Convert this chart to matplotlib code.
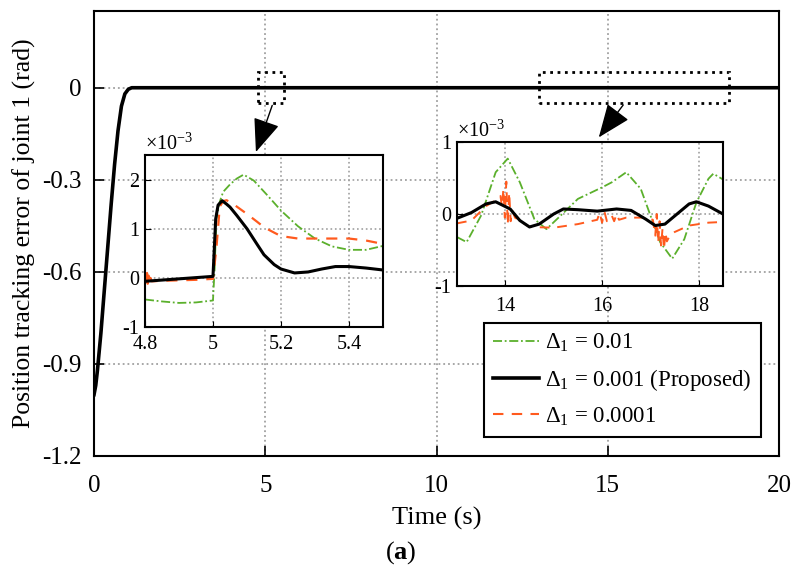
import matplotlib
matplotlib.use('Agg')
import matplotlib.pyplot as plt
from matplotlib.patches import Rectangle

plt.rcParams['font.family'] = ['Liberation Serif', 'DejaVu Serif']
plt.rcParams['mathtext.fontset'] = 'custom'
plt.rcParams['mathtext.rm'] = 'Liberation Serif'
plt.rcParams['mathtext.it'] = 'Liberation Serif:italic'
plt.rcParams['mathtext.bf'] = 'Liberation Serif:bold'
plt.rcParams['axes.unicode_minus'] = False

# colours of the three cases
c_green = '#5BB02C'
c_black = '#000000'
c_orange = '#FF5A1E'

# --- main plot data (rad) ---
t_main = [0, 0.05, 0.1, 0.2, 0.3, 0.4, 0.5, 0.6, 0.7, 0.8, 0.9, 1.0, 1.1, 1.2, 20]
e_main = [-1.0, -0.97, -0.92, -0.80, -0.66, -0.52, -0.38, -0.25, -0.14, -0.06, -0.02, -0.005, 0, 0, 0]

# --- inset 1 data (x1e-3 rad), t in 4.8..5.5 ---
t1_green = [4.8, 4.85, 4.9, 4.95, 5.0, 5.005, 5.01, 5.02, 5.03, 5.05, 5.07, 5.09, 5.12, 5.16, 5.2, 5.25, 5.3, 5.35, 5.4, 5.45, 5.5]
e1_green = [-0.44, -0.48, -0.51, -0.50, -0.46, 0.2, 1.2, 1.55, 1.75, 1.9, 2.02, 2.1, 1.98, 1.68, 1.37, 1.05, 0.8, 0.64, 0.57, 0.57, 0.65]
t1_black = [4.8, 4.9, 5.0, 5.004, 5.008, 5.015, 5.027, 5.04, 5.05, 5.07, 5.1, 5.13, 5.15, 5.18, 5.2, 5.24, 5.28, 5.32, 5.36, 5.4, 5.45, 5.5]
e1_black = [-0.07, -0.02, 0.03, 0.6, 1.2, 1.48, 1.57, 1.5, 1.44, 1.27, 1.0, 0.68, 0.47, 0.27, 0.18, 0.1, 0.12, 0.18, 0.23, 0.23, 0.2, 0.16]
t1_orange = [4.8, 4.802, 4.804, 4.806, 4.808, 4.81, 4.813, 4.816, 4.82, 4.85, 4.9, 4.95, 5.0, 5.01, 5.02, 5.03, 5.04, 5.06, 5.08, 5.1, 5.13, 5.15, 5.18, 5.2, 5.25, 5.3, 5.35, 5.4, 5.45, 5.5]
e1_orange = [-0.05, 0.08, -0.15, 0.1, -0.12, 0.05, -0.1, 0.0, -0.07, -0.06, -0.05, -0.04, -0.02, 0.6, 1.45, 1.56, 1.58, 1.5, 1.4, 1.3, 1.14, 1.03, 0.92, 0.85, 0.8, 0.8, 0.8, 0.8, 0.76, 0.69]

# --- inset 2 data (x1e-3 rad), t in 13..18.5 ---
t2_green = [13.0, 13.2, 13.5, 13.8, 14.05, 14.3, 14.6, 14.85, 15.1, 15.5, 16.0, 16.2, 16.5, 16.8, 17.0, 17.2, 17.45, 17.7, 17.95, 18.2, 18.3, 18.5]
e2_green = [-0.32, -0.39, -0.02, 0.58, 0.77, 0.44, -0.07, -0.21, -0.05, 0.21, 0.37, 0.44, 0.58, 0.35, -0.02, -0.39, -0.62, -0.35, 0.16, 0.49, 0.56, 0.48]
t2_black = [13.0, 13.3, 13.6, 13.8, 14.1, 14.3, 14.5, 14.7, 15.0, 15.2, 15.5, 15.9, 16.3, 16.6, 16.9, 17.1, 17.3, 17.55, 17.8, 17.95, 18.2, 18.5]
e2_black = [-0.06, 0.02, 0.14, 0.17, 0.07, -0.09, -0.18, -0.14, 0.0, 0.07, 0.06, 0.04, 0.07, 0.05, -0.07, -0.16, -0.14, 0.0, 0.14, 0.17, 0.11, 0.0]
t2_orange = [13.0, 13.3, 13.6, 13.8, 13.9, 13.93, 13.96, 13.99, 14.02, 14.05, 14.08, 14.11, 14.14, 14.2, 14.5, 15.0, 15.5,
             15.9, 15.95, 16.0, 16.05, 16.1, 16.2, 16.25, 16.3, 16.35, 16.5, 16.9, 17.05, 17.1, 17.13, 17.16, 17.19, 17.22,
             17.25, 17.28, 17.31, 17.34, 17.4, 17.5, 17.8, 18.2, 18.5]
e2_orange = [-0.13, -0.09, 0.11, 0.19, 0.25, 0.1, 0.35, -0.05, 0.45, -0.15, 0.3, -0.1, 0.05, -0.05, -0.18, -0.19, -0.14,
             -0.08, 0.02, -0.12, 0.03, -0.1, -0.02, -0.1, 0.0, -0.08, -0.05, -0.05, -0.08, -0.3, 0.0, -0.4, -0.1, -0.45,
             -0.2, -0.49, -0.25, -0.38, -0.3, -0.25, -0.16, -0.12, -0.11]

green_ls = (0, (5, 1.5, 1, 1.5))
orange_ls = (0, (5, 4))

fig = plt.figure(figsize=(8.01, 5.74), dpi=100)
ax = fig.add_axes([0.1174, 0.2056, 0.8551, 0.7752])

# green and orange lie under the black curve at this scale
ax.plot(t_main, e_main, color=c_green, lw=1.3, ls=green_ls, label=r'$\Delta_1$ = 0.01')
ax.plot(t_main, e_main, color=c_black, lw=2.6, label=r'$\Delta_1$ = 0.001 (Proposed)', zorder=3)
ax.plot(t_main, e_main, color=c_orange, lw=1.5, ls=orange_ls, label=r'$\Delta_1$ = 0.0001')

ax.set_xlim(0, 20)
ax.set_ylim(-1.2, 0.25)
ax.set_xticks([0, 5, 10, 15, 20])
ax.set_yticks([0, -0.3, -0.6, -0.9, -1.2])
ax.set_yticklabels(['0', '-0.3', '-0.6', '-0.9', '-1.2'])
ax.tick_params(direction='in', length=7, width=1.2, labelsize=18)
ax.tick_params(axis='x', pad=14)
ax.tick_params(axis='y', pad=9)
ax.grid(True, ls=':', color='#a0a0a0', lw=1.3)
for s in ax.spines.values():
    s.set_linewidth(1.5)
ax.set_xlabel('Time (s)', fontsize=19, labelpad=7)
ax.set_ylabel('Position tracking error of joint 1 (rad)', fontsize=18.5, labelpad=4)

# zoom regions
ax.add_patch(Rectangle((4.8, -0.05), 0.75, 0.1, fill=False, ls=':', lw=2, ec='k', zorder=5))
ax.add_patch(Rectangle((13.0, -0.05), 5.55, 0.1, fill=False, ls=':', lw=2, ec='k', zorder=5))
arrow_kw = dict(arrowstyle='-|>,head_length=1.5,head_width=0.6', color='k', lw=1, mutation_scale=14)
ax.annotate('', xy=(4.70, -0.218), xytext=(5.23, -0.049), arrowprops=arrow_kw, annotation_clip=False, zorder=6)
ax.annotate('', xy=(14.69, -0.169), xytext=(15.5, -0.049), arrowprops=arrow_kw, annotation_clip=False, zorder=6)

leg = ax.legend(loc='lower right', bbox_to_anchor=(0.950, 0.2387), bbox_transform=fig.transFigure,
                fontsize=16.5, frameon=True, fancybox=False, handlelength=2.0, borderpad=0.4,
                labelspacing=0.55, handletextpad=0.3, borderaxespad=0)
leg.get_frame().set_edgecolor('k')
leg.get_frame().set_linewidth(1.5)
leg.get_frame().set_alpha(1)

# inset 1
ax1 = fig.add_axes([0.181, 0.4303, 0.2971, 0.2997])
ax1.plot(t1_green, e1_green, color=c_green, lw=1.3, ls=green_ls)
ax1.plot(t1_orange, e1_orange, color=c_orange, lw=1.6, ls=orange_ls)
ax1.plot(t1_black, e1_black, color=c_black, lw=2.2)
ax1.set_xlim(4.8, 5.5)
ax1.set_ylim(-1, 2.5)
ax1.set_xticks([4.8, 5.0, 5.2, 5.4])
ax1.set_xticklabels(['4.8', '5', '5.2', '5.4'])
ax1.set_yticks([-1, 0, 1, 2])
ax1.set_yticklabels(['-1', '0', '1', '2'])
ax1.tick_params(direction='in', length=4, labelsize=14.5, pad=4)
ax1.tick_params(axis='x', pad=6)
ax1.grid(True, ls=':', color='#a0a0a0', lw=1.2)
for s in ax1.spines.values():
    s.set_linewidth(1.5)
ax1.text(0.0, 1.0, r'$\times$10$^{-3}$', transform=ax1.transAxes, fontsize=14.5, ha='left', va='bottom')

# inset 2
ax2 = fig.add_axes([0.5705, 0.5017, 0.3321, 0.2509])
ax2.plot(t2_green, e2_green, color=c_green, lw=1.3, ls=green_ls)
ax2.plot(t2_orange, e2_orange, color=c_orange, lw=1.4, ls=orange_ls)
ax2.plot(t2_black, e2_black, color=c_black, lw=2.2)
ax2.set_xlim(13, 18.5)
ax2.set_ylim(-1, 1)
ax2.set_xticks([14, 16, 18])
ax2.set_yticks([-1, 0, 1])
ax2.set_yticklabels(['-1', '0', '1'])
ax2.tick_params(direction='in', length=4, labelsize=14.5, pad=4)
ax2.tick_params(axis='x', pad=8)
ax2.grid(True, ls=':', color='#a0a0a0', lw=1.2)
for s in ax2.spines.values():
    s.set_linewidth(1.5)
ax2.text(0.0, 1.0, r'$\times$10$^{-3}$', transform=ax2.transAxes, fontsize=14.5, ha='left', va='bottom')

fig.text(0.5, 1 - 553 / 574, r'($\mathbf{a}$)', ha='center', va='center', fontsize=19)

fig.savefig('out.png', dpi=100)
